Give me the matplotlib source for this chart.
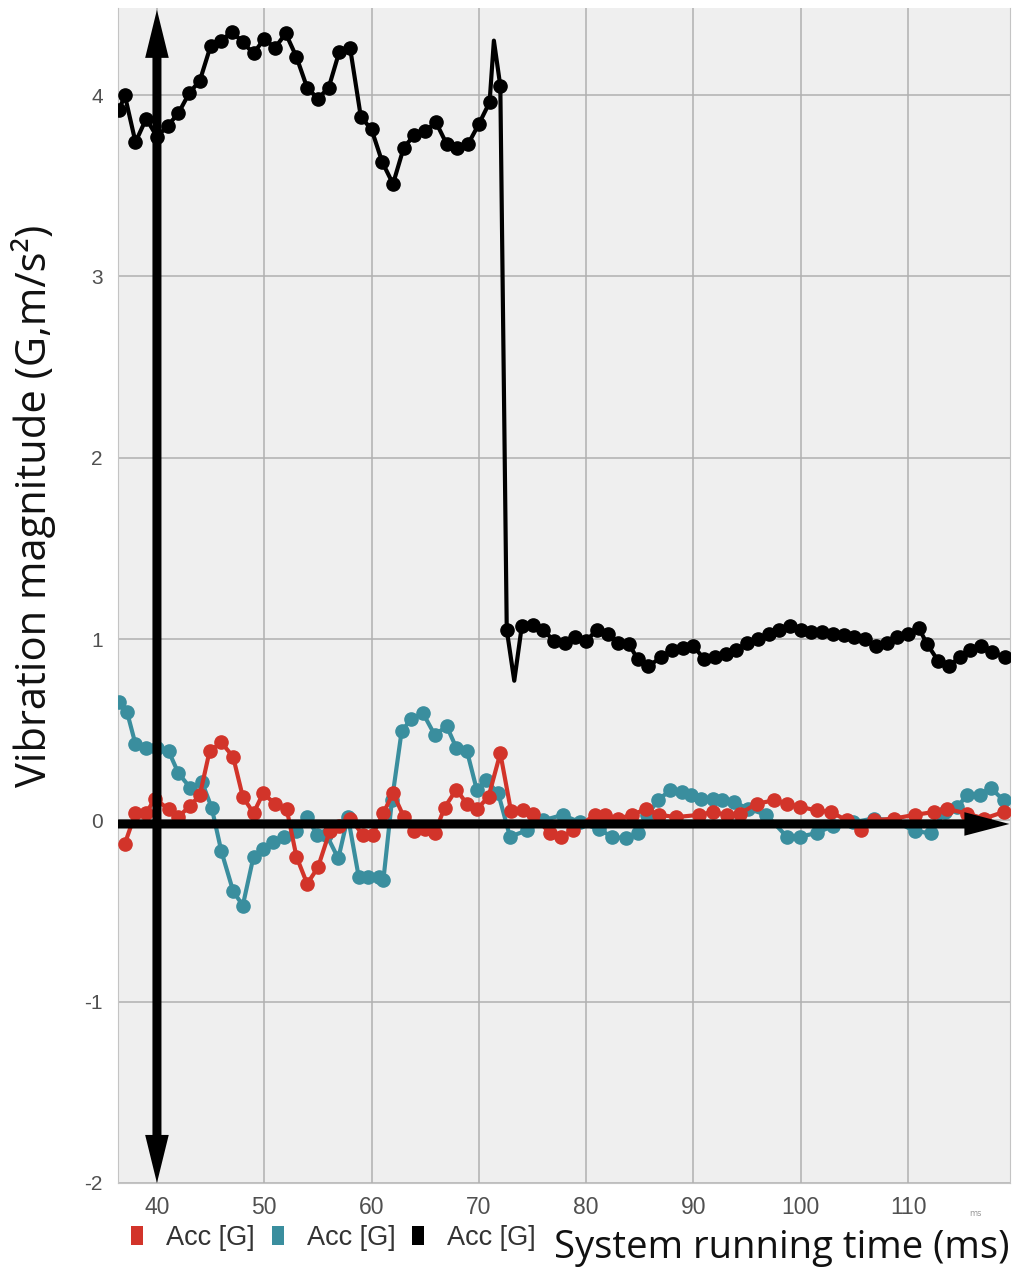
import matplotlib
matplotlib.use("Agg")
import matplotlib.pyplot as plt
from matplotlib.patches import Patch, Polygon

plt.rcParams["axes.unicode_minus"] = False

# three accelerometer channels (time in ms, magnitude in G)
black_t = [36.5, 37.0, 38.0, 39.0, 40.0, 41.0, 42.0, 43.0, 44.0, 45.0, 46.0, 47.0,
           48.0, 49.0, 50.0, 51.0, 52.0, 53.0, 54.0, 55.0, 56.0, 57.0, 58.0, 59.0,
           60.0, 61.0, 62.0, 63.0, 64.0, 65.0, 66.0, 67.0, 68.0, 69.0, 70.0, 71.0,
           71.4, 72.0, 72.6, 73.3, 74.0, 75.0, 76.0, 77.0, 78.0, 79.0, 80.0, 81.0,
           82.0, 83.0, 84.0, 84.8, 85.8, 87.0, 88.0, 89.0, 90.0, 91.0, 92.0, 93.0,
           94.0, 95.0, 96.0, 97.0, 98.0, 99.0, 100.0, 101.0, 102.0, 103.0, 104.0,
           105.0, 106.0, 107.0, 108.0, 109.0, 110.0, 111.0, 111.8, 112.8, 113.8,
           114.8, 115.8, 116.8, 117.8, 119.0]
black_v = [3.92, 4.00, 3.74, 3.87, 3.77, 3.83, 3.90, 4.01, 4.08, 4.27, 4.30, 4.35,
           4.29, 4.23, 4.31, 4.26, 4.34, 4.21, 4.04, 3.98, 4.04, 4.24, 4.26, 3.88,
           3.81, 3.63, 3.51, 3.71, 3.78, 3.80, 3.85, 3.73, 3.71, 3.73, 3.84, 3.96,
           4.30, 4.05, 1.05, 0.77, 1.07, 1.08, 1.05, 0.99, 0.98, 1.01, 0.99, 1.05,
           1.03, 0.98, 0.97, 0.89, 0.85, 0.90, 0.94, 0.95, 0.96, 0.89, 0.90, 0.92,
           0.94, 0.98, 1.00, 1.03, 1.05, 1.07, 1.05, 1.04, 1.04, 1.03, 1.02,
           1.01, 1.00, 0.96, 0.98, 1.01, 1.03, 1.06, 0.97, 0.88, 0.85,
           0.90, 0.94, 0.96, 0.93, 0.90]
# spike and dip samples that are drawn by the line only
black_unmarked = [71.4, 73.3]

red_t = [37.0, 38.0, 39.0, 39.8, 41.1, 42.0, 43.1, 44.0, 44.9, 46.0, 47.1, 48.0,
         49.0, 49.9, 51.0, 52.1, 53.0, 54.0, 55.0, 56.1, 57.0, 58.0, 59.2, 60.1,
         61.1, 62.0, 63.0, 64.0, 65.0, 65.9, 66.8, 67.9, 68.9, 69.8, 70.9, 72.0,
         73.0, 74.1, 75.0, 76.6, 77.7, 78.8, 80.8, 81.8, 83.0, 84.3, 85.6, 86.8,
         88.4, 90.5, 91.8, 93.1, 94.3, 95.9, 97.5, 98.7, 99.9, 101.5, 102.8,
         104.3, 105.6, 106.8, 108.7, 110.6, 112.4, 113.6, 115.5, 117.1, 118.9]
red_v = [-0.13, 0.04, 0.04, 0.12, 0.06, 0.02, 0.08, 0.14, 0.38, 0.43, 0.35, 0.13,
         0.04, 0.15, 0.09, 0.06, -0.20, -0.35, -0.26, -0.06, -0.03, 0.01, -0.08, -0.08,
         0.04, 0.15, 0.02, -0.06, -0.05, -0.07, 0.07, 0.17, 0.09, 0.06, 0.13, 0.37,
         0.05, 0.055, 0.036, -0.07, -0.09, -0.055, 0.03, 0.03, 0.01, 0.03, 0.064, 0.03,
         0.018, 0.03, 0.046, 0.03, 0.036, 0.092, 0.11, 0.092, 0.074, 0.055, 0.046,
         0.0, -0.055, 0.0, 0.01, 0.03, 0.046, 0.064, 0.037, 0.01, 0.046]

teal_t = [36.5, 37.2, 38.0, 39.0, 40.0, 41.1, 42.0, 43.1, 44.2, 45.1, 46.0, 47.1,
          48.0, 49.0, 49.9, 50.8, 51.8, 53.0, 54.0, 54.9, 55.8, 56.9, 57.8, 58.8,
          59.7, 60.7, 61.1, 61.9, 62.8, 63.7, 64.8, 65.9, 67.0, 67.9, 68.9, 69.8,
          70.7, 71.8, 72.9, 74.5, 76.0, 77.8, 79.4, 81.2, 82.4, 83.7, 84.8, 85.7,
          86.7, 87.8, 88.9, 89.8, 90.7, 91.8, 92.7, 93.8, 95.1, 96.8, 98.7, 99.9,
          101.5, 103.0, 104.9, 106.8, 108.7, 110.6, 112.1, 113.4, 114.6, 115.5,
          116.7, 117.7, 118.9]
teal_v = [0.65, 0.60, 0.42, 0.40, 0.40, 0.38, 0.26, 0.18, 0.21, 0.07, -0.17, -0.39,
          -0.47, -0.20, -0.16, -0.12, -0.09, -0.06, 0.02, -0.08, -0.08, -0.21, 0.02, -0.31,
          -0.31, -0.31, -0.33, 0.11, 0.49, 0.56, 0.59, 0.47, 0.52, 0.40, 0.38, 0.17,
          0.22, 0.15, -0.09, -0.055, 0.0, 0.03, -0.01, -0.05, -0.09, -0.10, -0.07, 0.03,
          0.11, 0.166, 0.157, 0.14, 0.12, 0.12, 0.11, 0.10, 0.064, 0.03, -0.09, -0.09,
          -0.07, -0.03, -0.01, 0.01, 0.0, -0.06, -0.07, 0.046, 0.074, 0.14,
          0.14, 0.18, 0.11]

series_labels = ["Acc [G]", "Acc [G]", "Acc [G]"]
RED = "#d2342a"
TEAL = "#3a8e9e"
BLACK = "#000000"

x_ticks = [40, 50, 60, 70, 80, 90, 100, 110]
y_ticks = [-2, -1, 0, 1, 2, 3, 4]
XLIM = (36.37, 119.5)
YLIM = (-2.0, 4.48)

fig = plt.figure(figsize=(10.23, 12.74), dpi=100)
W, H = 1023, 1274
ax = fig.add_axes([118 / W, 1 - 1183 / H, 892 / W, 1175 / H])
ax.set_facecolor("#efefef")

style = dict(lw=3.0, ms=9.5, marker="o")
ax.plot(teal_t, teal_v, color=TEAL, zorder=3, **style)
ax.plot(red_t, red_v, color=RED, zorder=4, **style)
marked = [i for i, t in enumerate(black_t) if t not in black_unmarked]
ax.plot(black_t, black_v, color=BLACK, markevery=marked, zorder=5, **style)

ax.set_xlim(*XLIM)
ax.set_ylim(*YLIM)
ax.set_xticks(x_ticks)
ax.set_yticks(y_ticks)
ax.grid(True, color="#b0b0b0", lw=1.1)
ax.set_axisbelow(True)
ax.tick_params(length=0)
ax.tick_params(axis="y", pad=11, labelsize=15, labelcolor="#505050")
ax.tick_params(axis="x", pad=9, labelsize=16.5, labelcolor="#505050")
for lab in ax.get_xticklabels() + ax.get_yticklabels():
    lab.set_fontfamily("Liberation Sans")
for side in ("left", "right", "bottom"):
    ax.spines[side].set_color("#c4c4c4")
ax.spines["top"].set_visible(False)

# drawn axes: a right-pointing arrow along y=0 and a two-headed arrow at x=40
ax.arrow(XLIM[0], -0.02, XLIM[1] - 0.05 - XLIM[0], 0, width=0.05, head_width=0.13,
         head_length=4.2, length_includes_head=True, color=BLACK, lw=0,
         zorder=8, clip_on=False)
x0, y_lo, y_hi = 40, -2.0, 4.47
shaft, head, head_len = 0.42, 1.1, 0.265
ax.add_patch(Polygon([
    (x0, y_lo), (x0 + head, y_lo + head_len), (x0 + shaft, y_lo + head_len),
    (x0 + shaft, y_hi - head_len), (x0 + head, y_hi - head_len), (x0, y_hi),
    (x0 - head, y_hi - head_len), (x0 - shaft, y_hi - head_len),
    (x0 - shaft, y_lo + head_len), (x0 - head, y_lo + head_len)],
    closed=True, facecolor=BLACK, edgecolor="none", zorder=8, clip_on=False))

fig.text(34 / W, 1 - 506 / H, "Vibration magnitude (G,m/s²)", rotation=90,
         ha="center", va="center", fontsize=30, family="Open Sans", color="#111111")
fig.text(1010 / W, 1 - 1248 / H, "System running time (ms)", ha="right",
         va="center", fontsize=27.5, family="Open Sans", color="#111111")
fig.text(975 / W, 1 - 1213 / H, "ms", ha="center", va="center", fontsize=6,
         color="#999999")

handles = [Patch(facecolor=c, edgecolor="none") for c in (RED, TEAL, BLACK)]
fig.legend(handles, series_labels, ncol=3, loc="center left",
           bbox_to_anchor=(131 / W, 1 - 1238 / H), frameon=False,
           handlelength=0.45, handleheight=0.75, handletextpad=0.85,
           columnspacing=0.62, borderpad=0, borderaxespad=0,
           prop={"family": "Liberation Sans", "size": 19.5}, labelcolor="#333333")

fig.savefig("out.png", dpi=100, facecolor="white")
